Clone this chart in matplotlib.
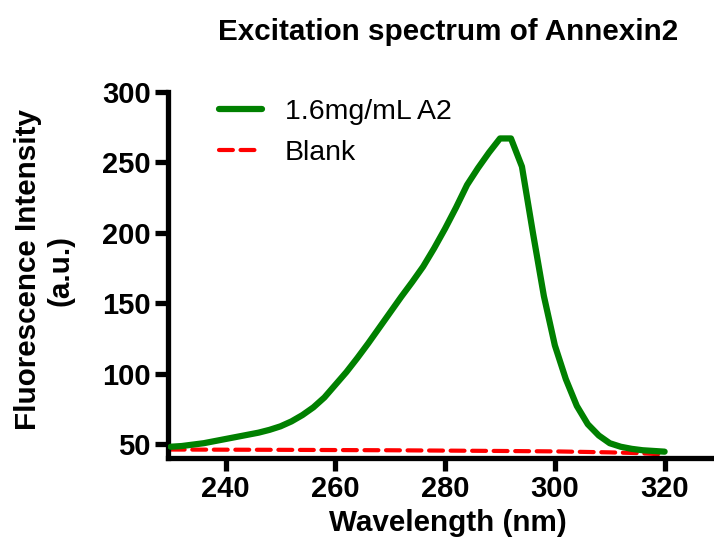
import matplotlib
matplotlib.use("Agg")
import matplotlib.pyplot as plt

plt.rcParams['font.family'] = ['Liberation Sans', 'DejaVu Sans']
plt.rcParams['lines.scale_dashes'] = False

wavelength = [230, 232, 234, 236, 238, 240, 242, 244, 246, 248, 250, 252, 254, 256, 258,
              260, 262, 264, 266, 268, 270, 272, 274, 276, 278, 280, 282, 284, 286, 288,
              290, 292, 294, 296, 298, 300, 302, 304, 306, 308, 310, 312, 314, 316, 318, 320]
a2_intensity = [48, 48.5, 49.5, 50.5, 52, 53.5, 55, 56.5, 58, 60, 62.5, 66, 70.5, 76, 83,
                92, 101, 111, 121.5, 132.5, 143.5, 154.5, 165, 176, 189, 203, 218, 234, 246, 257,
                267, 267, 247, 200, 155, 120, 96, 77, 64, 56, 50.5, 48, 46.5, 45.5, 45, 44.5]
blank_wavelength = [230, 250, 270, 290, 300, 310, 315, 320]
blank_intensity = [46, 45.8, 45.5, 45, 44.7, 44, 43.5, 42.5]

series_labels = ["1.6mg/mL A2", "Blank"]
x_ticks = [240, 260, 280, 300, 320]
y_ticks = [50, 100, 150, 200, 250, 300]

fig = plt.figure(figsize=(7.14, 5.52), dpi=100)
ax = fig.add_axes([168/714, (552-458)/552, 1 - 168/714, (458-92)/552])

ax.plot(wavelength, a2_intensity, color='#008000', lw=4.5, solid_capstyle='round',
        solid_joinstyle='round', label=series_labels[0], zorder=3)
ax.plot(blank_wavelength, blank_intensity, color='#ff0000', lw=3.0, dashes=(10, 5.5),
        dash_capstyle='round', label=series_labels[1], zorder=2)

ax.set_xlim(229.5, 329)
ax.set_ylim(40, 300)
ax.set_xticks(x_ticks)
ax.set_yticks(y_ticks)

for side in ['top', 'right']:
    ax.spines[side].set_visible(False)
for side in ['left', 'bottom']:
    ax.spines[side].set_linewidth(3.8)
    ax.spines[side].set_capstyle('projecting')

ax.tick_params(axis='both', length=9.5, width=3.8, direction='out', labelsize=21, pad=3)
for lab in ax.get_xticklabels() + ax.get_yticklabels():
    lab.set_fontweight('bold')

ax.set_xlabel("Wavelength (nm)", fontsize=21.3, fontweight='bold')
ax.xaxis.set_label_coords((448-168)/(714-168), -(523-458)/366, transform=ax.transAxes)
ax.xaxis.label.set_va('center')
ax.set_ylabel("Fluorescence Intensity\n(a.u.)", fontsize=21.3, fontweight='bold', linespacing=1.2)
ax.yaxis.set_label_coords(-(168-44)/546, (458-270)/366)
ax.yaxis.label.set_va('center')

fig.text(448/714, 1 - 32/552, "Excitation spectrum of Annexin2", fontsize=21.3,
         fontweight='bold', ha='center', va='center')

leg = ax.legend(loc='upper left', bbox_to_anchor=((208-168)/546, (458-88)/366),
                frameon=False, fontsize=20.5, handlelength=1.5, handletextpad=0.8,
                labelspacing=0.5, borderaxespad=0)

fig.savefig("out.png", dpi=100)
